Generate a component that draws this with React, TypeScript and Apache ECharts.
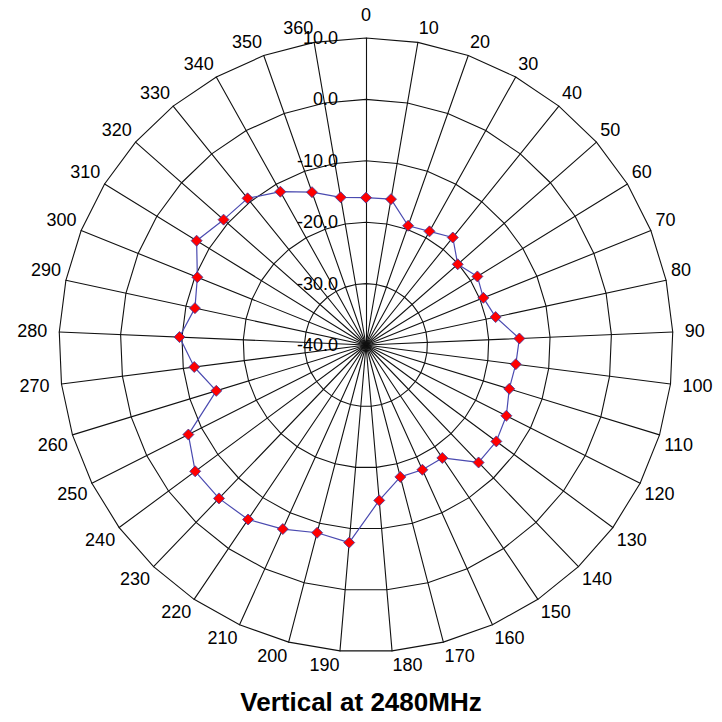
import React, { useEffect, useRef } from "react";
import * as echarts from "echarts";

const angleLabels = [
  "0", "10", "20", "30", "40", "50", "60", "70", "80", "90",
  "100", "110", "120", "130", "140", "150", "160", "170", "180", "190",
  "200", "210", "220", "230", "240", "250", "260", "270", "280", "290",
  "300", "310", "320", "330", "340", "350", "360",
];

const gainValues = [
  -16.0, -15.9, -19.4, -18.8, -17.5, -20.1, -18.7, -19.4, -18.4, -15.0,
  -15.4, -15.6, -14.4, -13.6, -13.5, -17.8, -17.7, -17.8, -14.6, -7.7,
  -8.4, -7.1, -5.7, -5.4, -5.4, -7.6, -14.5, -11.8, -9.6, -11.5,
  -10.4, -7.6, -9.1, -9.3, -11.4, -13.6, -15.6,
];

const radialMin = -40;
const radialMax = 10;
const radialSplits = 5;
const chartTitle = "Vertical at 2480MHz";

const FONT = "'Liberation Sans', Arial, sans-serif";

export default function App() {
  const ref = useRef<HTMLDivElement>(null);

  useEffect(() => {
    if (!ref.current) return;
    const chart = echarts.init(ref.current, undefined, { renderer: "svg" });
    const n = angleLabels.length;
    // ECharts radar runs counter-clockwise; reverse order for clockwise layout
    const order = angleLabels.map((_, i) => (n - i) % n);
    const indicators = order.map((k, i) => {
      const theta = (k * 360) / n;
      const fromH = Math.min(Math.abs(theta - 90), Math.abs(theta - 270));
      let va = "middle";
      let gap = 12;
      if (fromH >= 12) {
        va = theta < 90 || theta > 270 ? "bottom" : "top";
        gap = 5;
      }
      if (k === 0) gap = 14;
      return {
        name: angleLabels[k],
        min: radialMin,
        max: radialMax,
        nameGap: gap,
        nameTextStyle: { verticalAlign: va },
        axisLabel: { show: i === 0 },
      };
    });
    const data = order.map((k) => gainValues[k]);

    chart.setOption({
      animation: false,
      backgroundColor: "#ffffff",
      title: {
        text: chartTitle,
        left: "center",
        top: 684,
        textStyle: {
          fontFamily: FONT,
          fontSize: 26,
          fontWeight: "bold",
          color: "#000",
        },
      },
      radar: {
        center: [366, 345],
        radius: 307,
        startAngle: 90,
        shape: "polygon",
        splitNumber: radialSplits,
        indicator: indicators,
        axisName: {
          color: "#000",
          fontSize: 18,
          fontFamily: FONT,
        },
        axisLine: { lineStyle: { color: "#111", width: 1.1 } },
        splitLine: { lineStyle: { color: "#111", width: 1.1 } },
        splitArea: { show: false },
        axisTick: { show: false },
        axisLabel: {
          show: false,
          color: "#000",
          fontSize: 18,
          fontFamily: FONT,
          margin: 28,
          formatter: (v: number) => Number(v).toFixed(1),
        },
      },
      series: [
        {
          type: "radar",
          symbol: "diamond",
          symbolSize: 11,
          lineStyle: { color: "#4a4ab0", width: 1.2 },
          itemStyle: { color: "#ff0000", borderColor: "#3a3aa0", borderWidth: 0.8 },
          data: [{ value: data, name: chartTitle }],
        },
      ],
    });
    return () => chart.dispose();
  }, []);

  return (
    <div
      ref={ref}
      style={{ position: "fixed", left: 0, top: 0, width: 722, height: 722 }}
    />
  );
}
